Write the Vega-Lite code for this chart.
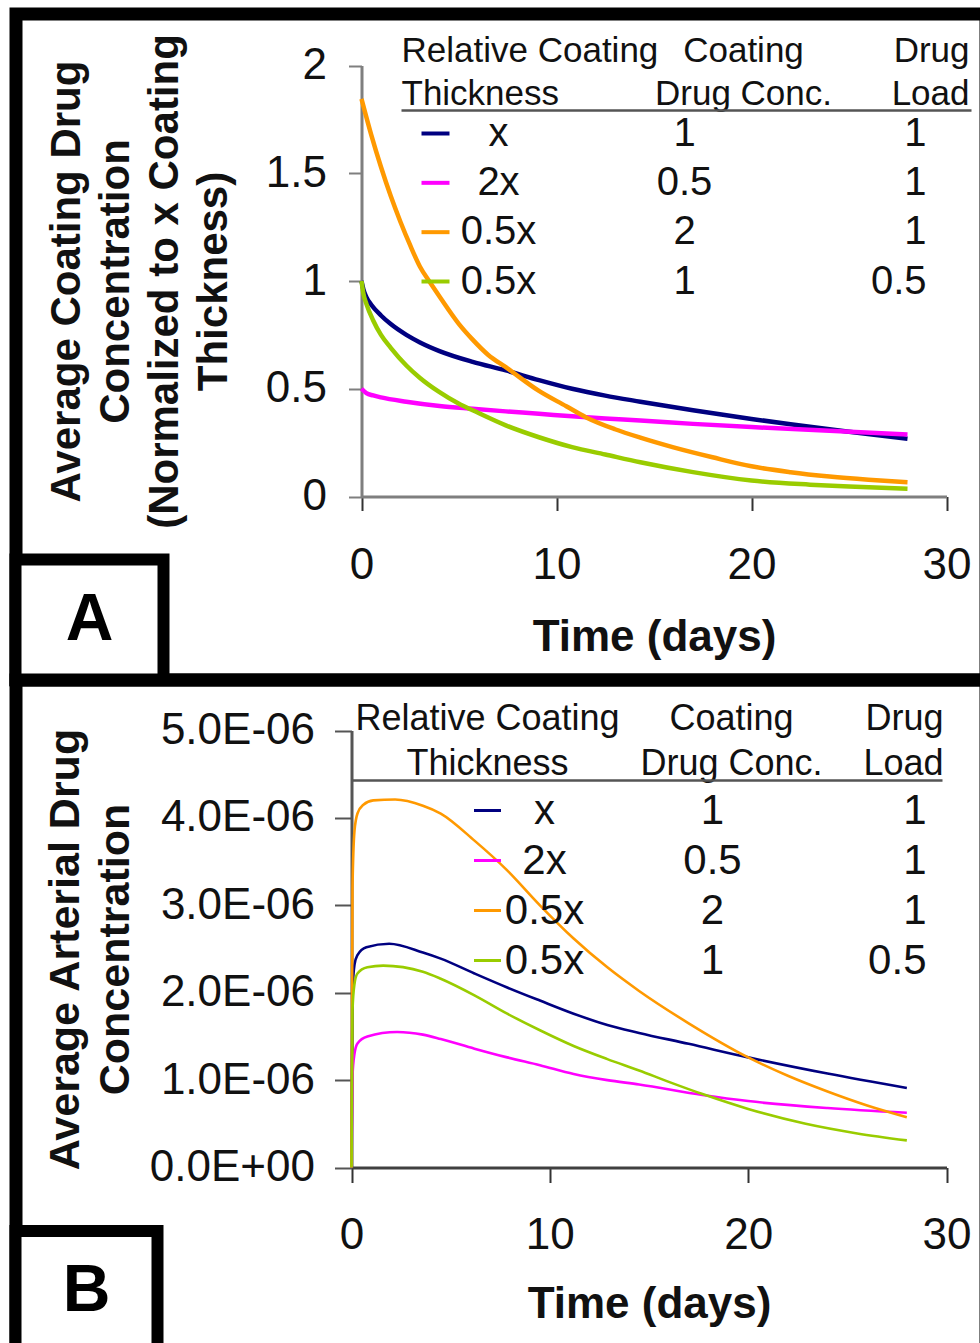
{
  "$schema": "https://vega.github.io/schema/vega-lite/v6.json",
  "background": "white",
  "padding": {"left": 3, "top": 7, "right": 0, "bottom": 0},
  "bounds": "flush",
  "spacing": 0,
  "config": {
    "font": "Liberation Sans",
    "view": {"stroke": "black", "strokeWidth": 13},
    "axis": {
      "grid": false,
      "labelFont": "Liberation Sans",
      "labelFontSize": 44,
      "labelColor": "#111111",
      "labelOverlap": false,
      "titleFont": "Liberation Sans",
      "titleFontWeight": "bold",
      "titleColor": "#111111",
      "domainWidth": 3,
      "tickWidth": 2
    },
    "text": {"font": "Liberation Sans", "color": "#111111"}
  },
  "datasets": {
    "curvesA": [
      {"s": "x, 1, 1", "t": 0, "v": 1.0}, {"s": "x, 1, 1", "t": 0.1, "v": 0.96}, {"s": "x, 1, 1", "t": 0.25, "v": 0.925}, {"s": "x, 1, 1", "t": 0.5, "v": 0.89}, {"s": "x, 1, 1", "t": 1, "v": 0.84}, {"s": "x, 1, 1", "t": 1.5, "v": 0.8}, {"s": "x, 1, 1", "t": 2.3, "v": 0.75}, {"s": "x, 1, 1", "t": 3, "v": 0.715}, {"s": "x, 1, 1", "t": 4, "v": 0.675}, {"s": "x, 1, 1", "t": 5.7, "v": 0.625}, {"s": "x, 1, 1", "t": 7.4, "v": 0.585}, {"s": "x, 1, 1", "t": 9.1, "v": 0.54}, {"s": "x, 1, 1", "t": 10.8, "v": 0.5}, {"s": "x, 1, 1", "t": 12.5, "v": 0.468}, {"s": "x, 1, 1", "t": 14.3, "v": 0.44}, {"s": "x, 1, 1", "t": 17, "v": 0.4}, {"s": "x, 1, 1", "t": 20, "v": 0.36}, {"s": "x, 1, 1", "t": 22, "v": 0.335}, {"s": "x, 1, 1", "t": 25, "v": 0.3}, {"s": "x, 1, 1", "t": 28, "v": 0.268},
      {"s": "2x, 0.5, 1", "t": 0, "v": 0.5}, {"s": "2x, 0.5, 1", "t": 0.25, "v": 0.48}, {"s": "2x, 0.5, 1", "t": 0.6, "v": 0.469}, {"s": "2x, 0.5, 1", "t": 1, "v": 0.46}, {"s": "2x, 0.5, 1", "t": 2.3, "v": 0.44}, {"s": "2x, 0.5, 1", "t": 4, "v": 0.42}, {"s": "2x, 0.5, 1", "t": 5.7, "v": 0.407}, {"s": "2x, 0.5, 1", "t": 7.4, "v": 0.395}, {"s": "2x, 0.5, 1", "t": 9.1, "v": 0.384}, {"s": "2x, 0.5, 1", "t": 10.8, "v": 0.372}, {"s": "2x, 0.5, 1", "t": 12.5, "v": 0.362}, {"s": "2x, 0.5, 1", "t": 14.3, "v": 0.353}, {"s": "2x, 0.5, 1", "t": 17, "v": 0.337}, {"s": "2x, 0.5, 1", "t": 20, "v": 0.322}, {"s": "2x, 0.5, 1", "t": 24, "v": 0.305}, {"s": "2x, 0.5, 1", "t": 28, "v": 0.288},
      {"s": "0.5x, 2, 1", "t": 0, "v": 1.845}, {"s": "0.5x, 2, 1", "t": 0.5, "v": 1.678}, {"s": "0.5x, 2, 1", "t": 1, "v": 1.529}, {"s": "0.5x, 2, 1", "t": 1.5, "v": 1.394}, {"s": "0.5x, 2, 1", "t": 2, "v": 1.274}, {"s": "0.5x, 2, 1", "t": 2.5, "v": 1.165}, {"s": "0.5x, 2, 1", "t": 3, "v": 1.066}, {"s": "0.5x, 2, 1", "t": 3.5, "v": 0.995}, {"s": "0.5x, 2, 1", "t": 4, "v": 0.928}, {"s": "0.5x, 2, 1", "t": 5, "v": 0.8}, {"s": "0.5x, 2, 1", "t": 5.7, "v": 0.728}, {"s": "0.5x, 2, 1", "t": 6.5, "v": 0.657}, {"s": "0.5x, 2, 1", "t": 7.4, "v": 0.6}, {"s": "0.5x, 2, 1", "t": 9.1, "v": 0.49}, {"s": "0.5x, 2, 1", "t": 10.5, "v": 0.419}, {"s": "0.5x, 2, 1", "t": 11.5, "v": 0.368}, {"s": "0.5x, 2, 1", "t": 13, "v": 0.312}, {"s": "0.5x, 2, 1", "t": 14.3, "v": 0.273}, {"s": "0.5x, 2, 1", "t": 16, "v": 0.228}, {"s": "0.5x, 2, 1", "t": 18, "v": 0.182}, {"s": "0.5x, 2, 1", "t": 20, "v": 0.14}, {"s": "0.5x, 2, 1", "t": 22, "v": 0.113}, {"s": "0.5x, 2, 1", "t": 24, "v": 0.093}, {"s": "0.5x, 2, 1", "t": 26, "v": 0.078}, {"s": "0.5x, 2, 1", "t": 28, "v": 0.066},
      {"s": "0.5x, 1, 0.5", "t": 0, "v": 1.0}, {"s": "0.5x, 1, 0.5", "t": 0.1, "v": 0.94}, {"s": "0.5x, 1, 0.5", "t": 0.25, "v": 0.894}, {"s": "0.5x, 1, 0.5", "t": 0.6, "v": 0.817}, {"s": "0.5x, 1, 0.5", "t": 1, "v": 0.75}, {"s": "0.5x, 1, 0.5", "t": 1.5, "v": 0.69}, {"s": "0.5x, 1, 0.5", "t": 2.3, "v": 0.608}, {"s": "0.5x, 1, 0.5", "t": 3, "v": 0.55}, {"s": "0.5x, 1, 0.5", "t": 4, "v": 0.484}, {"s": "0.5x, 1, 0.5", "t": 5, "v": 0.43}, {"s": "0.5x, 1, 0.5", "t": 5.7, "v": 0.4}, {"s": "0.5x, 1, 0.5", "t": 7.4, "v": 0.33}, {"s": "0.5x, 1, 0.5", "t": 9.1, "v": 0.275}, {"s": "0.5x, 1, 0.5", "t": 10.8, "v": 0.229}, {"s": "0.5x, 1, 0.5", "t": 12.5, "v": 0.195}, {"s": "0.5x, 1, 0.5", "t": 14.3, "v": 0.159}, {"s": "0.5x, 1, 0.5", "t": 17, "v": 0.113}, {"s": "0.5x, 1, 0.5", "t": 20, "v": 0.074}, {"s": "0.5x, 1, 0.5", "t": 23, "v": 0.055}, {"s": "0.5x, 1, 0.5", "t": 25, "v": 0.046}, {"s": "0.5x, 1, 0.5", "t": 28, "v": 0.036}
    ],
    "curvesB": [
      {"s": "x, 1, 1", "t": 0, "v": 0}, {"s": "x, 1, 1", "t": 0.05, "v": 2.0e-6}, {"s": "x, 1, 1", "t": 0.15, "v": 2.32e-6}, {"s": "x, 1, 1", "t": 0.3, "v": 2.43e-6}, {"s": "x, 1, 1", "t": 0.75, "v": 2.52e-6}, {"s": "x, 1, 1", "t": 1.9, "v": 2.56e-6}, {"s": "x, 1, 1", "t": 3.6, "v": 2.46e-6}, {"s": "x, 1, 1", "t": 4.5, "v": 2.39e-6}, {"s": "x, 1, 1", "t": 6.2, "v": 2.22e-6}, {"s": "x, 1, 1", "t": 7.85, "v": 2.06e-6}, {"s": "x, 1, 1", "t": 9.5, "v": 1.91e-6}, {"s": "x, 1, 1", "t": 11.2, "v": 1.76e-6}, {"s": "x, 1, 1", "t": 12.9, "v": 1.63e-6}, {"s": "x, 1, 1", "t": 14.5, "v": 1.54e-6}, {"s": "x, 1, 1", "t": 17, "v": 1.415e-6}, {"s": "x, 1, 1", "t": 20, "v": 1.26e-6}, {"s": "x, 1, 1", "t": 24, "v": 1.075e-6}, {"s": "x, 1, 1", "t": 28, "v": 0.91e-6},
      {"s": "2x, 0.5, 1", "t": 0, "v": 0}, {"s": "2x, 0.5, 1", "t": 0.05, "v": 1.05e-6}, {"s": "2x, 0.5, 1", "t": 0.15, "v": 1.3e-6}, {"s": "2x, 0.5, 1", "t": 0.3, "v": 1.42e-6}, {"s": "2x, 0.5, 1", "t": 0.8, "v": 1.5e-6}, {"s": "2x, 0.5, 1", "t": 2.3, "v": 1.55e-6}, {"s": "2x, 0.5, 1", "t": 3.6, "v": 1.52e-6}, {"s": "2x, 0.5, 1", "t": 4.5, "v": 1.47e-6}, {"s": "2x, 0.5, 1", "t": 6.2, "v": 1.36e-6}, {"s": "2x, 0.5, 1", "t": 7.85, "v": 1.26e-6}, {"s": "2x, 0.5, 1", "t": 9.5, "v": 1.17e-6}, {"s": "2x, 0.5, 1", "t": 11.2, "v": 1.07e-6}, {"s": "2x, 0.5, 1", "t": 12.9, "v": 1.0e-6}, {"s": "2x, 0.5, 1", "t": 14.5, "v": 0.95e-6}, {"s": "2x, 0.5, 1", "t": 17.7, "v": 0.83e-6}, {"s": "2x, 0.5, 1", "t": 20, "v": 0.76e-6}, {"s": "2x, 0.5, 1", "t": 24, "v": 0.68e-6}, {"s": "2x, 0.5, 1", "t": 28, "v": 0.626e-6},
      {"s": "0.5x, 2, 1", "t": 0, "v": 0}, {"s": "0.5x, 2, 1", "t": 0.05, "v": 3.2e-6}, {"s": "0.5x, 2, 1", "t": 0.15, "v": 3.85e-6}, {"s": "0.5x, 2, 1", "t": 0.3, "v": 4.05e-6}, {"s": "0.5x, 2, 1", "t": 0.6, "v": 4.15e-6}, {"s": "0.5x, 2, 1", "t": 1.1, "v": 4.2e-6}, {"s": "0.5x, 2, 1", "t": 2.2, "v": 4.21e-6}, {"s": "0.5x, 2, 1", "t": 3.6, "v": 4.14e-6}, {"s": "0.5x, 2, 1", "t": 4.5, "v": 4.05e-6}, {"s": "0.5x, 2, 1", "t": 6.2, "v": 3.74e-6}, {"s": "0.5x, 2, 1", "t": 7.85, "v": 3.4e-6}, {"s": "0.5x, 2, 1", "t": 9.5, "v": 3.0e-6}, {"s": "0.5x, 2, 1", "t": 11.2, "v": 2.62e-6}, {"s": "0.5x, 2, 1", "t": 12.9, "v": 2.29e-6}, {"s": "0.5x, 2, 1", "t": 14.5, "v": 2.02e-6}, {"s": "0.5x, 2, 1", "t": 17, "v": 1.65e-6}, {"s": "0.5x, 2, 1", "t": 20, "v": 1.26e-6}, {"s": "0.5x, 2, 1", "t": 22, "v": 1.05e-6}, {"s": "0.5x, 2, 1", "t": 24, "v": 0.87e-6}, {"s": "0.5x, 2, 1", "t": 26, "v": 0.71e-6}, {"s": "0.5x, 2, 1", "t": 28, "v": 0.576e-6},
      {"s": "0.5x, 1, 0.5", "t": 0, "v": 0}, {"s": "0.5x, 1, 0.5", "t": 0.05, "v": 1.8e-6}, {"s": "0.5x, 1, 0.5", "t": 0.15, "v": 2.1e-6}, {"s": "0.5x, 1, 0.5", "t": 0.3, "v": 2.22e-6}, {"s": "0.5x, 1, 0.5", "t": 0.8, "v": 2.29e-6}, {"s": "0.5x, 1, 0.5", "t": 1.6, "v": 2.31e-6}, {"s": "0.5x, 1, 0.5", "t": 3.6, "v": 2.24e-6}, {"s": "0.5x, 1, 0.5", "t": 4.5, "v": 2.16e-6}, {"s": "0.5x, 1, 0.5", "t": 6.2, "v": 1.97e-6}, {"s": "0.5x, 1, 0.5", "t": 7.85, "v": 1.76e-6}, {"s": "0.5x, 1, 0.5", "t": 9.5, "v": 1.57e-6}, {"s": "0.5x, 1, 0.5", "t": 11.2, "v": 1.39e-6}, {"s": "0.5x, 1, 0.5", "t": 12.9, "v": 1.24e-6}, {"s": "0.5x, 1, 0.5", "t": 14.5, "v": 1.11e-6}, {"s": "0.5x, 1, 0.5", "t": 16, "v": 0.98e-6}, {"s": "0.5x, 1, 0.5", "t": 17.7, "v": 0.84e-6}, {"s": "0.5x, 1, 0.5", "t": 20, "v": 0.67e-6}, {"s": "0.5x, 1, 0.5", "t": 22.9, "v": 0.5e-6}, {"s": "0.5x, 1, 0.5", "t": 25.5, "v": 0.39e-6}, {"s": "0.5x, 1, 0.5", "t": 28, "v": 0.31e-6}
    ],
    "table": [
      {"s": "x, 1, 1", "col": "Relative Coating Thickness", "text": "x"},
      {"s": "x, 1, 1", "col": "Coating Drug Conc.", "text": "1"},
      {"s": "x, 1, 1", "col": "Drug Load", "text": "1"},
      {"s": "2x, 0.5, 1", "col": "Relative Coating Thickness", "text": "2x"},
      {"s": "2x, 0.5, 1", "col": "Coating Drug Conc.", "text": "0.5"},
      {"s": "2x, 0.5, 1", "col": "Drug Load", "text": "1"},
      {"s": "0.5x, 2, 1", "col": "Relative Coating Thickness", "text": "0.5x"},
      {"s": "0.5x, 2, 1", "col": "Coating Drug Conc.", "text": "2"},
      {"s": "0.5x, 2, 1", "col": "Drug Load", "text": "1"},
      {"s": "0.5x, 1, 0.5", "col": "Relative Coating Thickness", "text": "0.5x"},
      {"s": "0.5x, 1, 0.5", "col": "Coating Drug Conc.", "text": "1"},
      {"s": "0.5x, 1, 0.5", "col": "Drug Load", "text": "0.5"}
    ],
    "header": [
      {"col": "Relative Coating Thickness", "line": 1, "text": "Relative Coating"},
      {"col": "Relative Coating Thickness", "line": 2, "text": "Thickness"},
      {"col": "Coating Drug Conc.", "line": 1, "text": "Coating"},
      {"col": "Coating Drug Conc.", "line": 2, "text": "Drug Conc."},
      {"col": "Drug Load", "line": 1, "text": "Drug"},
      {"col": "Drug Load", "line": 2, "text": "Load"}
    ],
    "underline": [
      {"from": "Relative Coating Thickness", "to": "Drug Load", "line": "header rule"}
    ],
    "panelA": [{"panel": "A"}],
    "panelB": [{"panel": "B"}]
  },
  "vconcat": [
    {
      "width": 970,
      "height": 666,
      "resolve": {"scale": {"x": "independent", "y": "independent"}},
      "layer": [
        {
          "data": {"name": "curvesA"},
          "mark": {"type": "line", "strokeWidth": 4.5, "interpolate": "monotone"},
          "encoding": {
            "x": {"field": "t", "type": "quantitative",
              "scale": {"domain": [0, 30], "range": [345.5, 930.5], "nice": false, "zero": false},
              "axis": {"values": [0, 10, 20, 30], "format": "d", "offset": -183.5, "title": "Time (days)",
                "titleFontSize": 44, "tickSize": 14, "labelPadding": 33, "titlePadding": 28, "labelFlush": false,
                "domainColor": "#7f7f7f", "tickColor": "#333333"}},
            "y": {"field": "v", "type": "quantitative",
              "scale": {"domain": [0, 2], "range": [482.5, 51.5], "nice": false},
              "axis": {"values": [0, 0.5, 1, 1.5, 2], "format": "~g", "offset": -345.5,
                "title": ["Average Coating Drug", "Concentration", "(Normalized to x Coating", "Thickness)"],
                "titleFontSize": 42, "titleLineHeight": 49, "tickSize": 13, "labelPadding": 22, "titlePadding": 30,
                "domainColor": "#7f7f7f", "tickColor": "#7f7f7f"}},
            "color": {"field": "s", "type": "nominal",
              "scale": {"domain": ["x, 1, 1", "2x, 0.5, 1", "0.5x, 2, 1", "0.5x, 1, 0.5"], "range": ["#000080", "#ff00ff", "#ff9900", "#99cc00"]},
              "legend": null}
          }
        },
        {
          "data": {"name": "table"},
          "transform": [{"filter": "datum.col == 'Relative Coating Thickness'"}],
          "mark": {"type": "point", "shape": "stroke", "size": 784, "strokeWidth": 4, "opacity": 1, "filled": false},
          "encoding": {
            "x": {"field": "col", "type": "nominal", "scale": {"type": "point", "domain": ["Relative Coating Thickness"], "range": [419.5, 419.5]}, "axis": null},
            "y": {"field": "s", "type": "nominal", "scale": {"type": "point", "domain": ["x, 1, 1", "2x, 0.5, 1", "0.5x, 2, 1", "0.5x, 1, 0.5"], "range": [119.5, 267.5], "padding": 0}, "axis": null},
            "color": {"field": "s", "type": "nominal", "legend": null}
          }
        },
        {
          "data": {"name": "table"},
          "transform": [{"filter": "datum.col != 'Drug Load'"}],
          "mark": {"type": "text", "align": "center", "baseline": "middle", "fontSize": 40},
          "encoding": {
            "x": {"field": "col", "type": "nominal", "scale": {"type": "point", "domain": ["Relative Coating Thickness", "Coating Drug Conc."], "range": [482.5, 668.5], "padding": 0}, "axis": null},
            "y": {"field": "s", "type": "nominal", "scale": {"type": "point", "domain": ["x, 1, 1", "2x, 0.5, 1", "0.5x, 2, 1", "0.5x, 1, 0.5"], "range": [119.5, 267.5], "padding": 0}, "axis": null},
            "text": {"field": "text"}
          }
        },
        {
          "data": {"name": "table"},
          "transform": [{"filter": "datum.col == 'Drug Load'"}],
          "mark": {"type": "text", "align": "right", "baseline": "middle", "fontSize": 40},
          "encoding": {
            "x": {"field": "col", "type": "nominal", "scale": {"type": "point", "domain": ["Drug Load"], "range": [910.5, 910.5]}, "axis": null},
            "y": {"field": "s", "type": "nominal", "scale": {"type": "point", "domain": ["x, 1, 1", "2x, 0.5, 1", "0.5x, 2, 1", "0.5x, 1, 0.5"], "range": [119.5, 267.5], "padding": 0}, "axis": null},
            "text": {"field": "text"}
          }
        },
        {
          "data": {"name": "header"},
          "transform": [{"filter": "datum.col == 'Relative Coating Thickness'"}],
          "mark": {"type": "text", "align": "left", "baseline": "middle", "fontSize": 35},
          "encoding": {
            "x": {"field": "col", "type": "nominal", "scale": {"type": "point", "domain": ["Relative Coating Thickness"], "range": [385.5, 385.5]}, "axis": null},
            "y": {"field": "line", "type": "ordinal", "scale": {"type": "point", "domain": [1, 2], "range": [36.5, 79.5], "padding": 0}, "axis": null},
            "text": {"field": "text"}
          }
        },
        {
          "data": {"name": "header"},
          "transform": [{"filter": "datum.col == 'Coating Drug Conc.'"}],
          "mark": {"type": "text", "align": "center", "baseline": "middle", "fontSize": 35},
          "encoding": {
            "x": {"field": "col", "type": "nominal", "scale": {"type": "point", "domain": ["Coating Drug Conc."], "range": [727.5, 727.5]}, "axis": null},
            "y": {"field": "line", "type": "ordinal", "scale": {"type": "point", "domain": [1, 2], "range": [36.5, 79.5], "padding": 0}, "axis": null},
            "text": {"field": "text"}
          }
        },
        {
          "data": {"name": "header"},
          "transform": [{"filter": "datum.col == 'Drug Load'"}],
          "mark": {"type": "text", "align": "right", "baseline": "middle", "fontSize": 35},
          "encoding": {
            "x": {"field": "col", "type": "nominal", "scale": {"type": "point", "domain": ["Drug Load"], "range": [953.5, 953.5]}, "axis": null},
            "y": {"field": "line", "type": "ordinal", "scale": {"type": "point", "domain": [1, 2], "range": [36.5, 79.5], "padding": 0}, "axis": null},
            "text": {"field": "text"}
          }
        },
        {
          "data": {"name": "underline"},
          "mark": {"type": "rule", "strokeWidth": 2.5, "color": "#555555"},
          "encoding": {
            "x": {"field": "from", "type": "nominal", "scale": {"type": "point", "domain": ["Relative Coating Thickness", "Drug Load"], "range": [385.5, 955.5], "padding": 0}, "axis": null},
            "x2": {"field": "to"},
            "y": {"field": "line", "type": "nominal", "scale": {"type": "point", "domain": ["header rule"], "range": [96.5, 96.5]}, "axis": null}
          }
        },
        {
          "data": {"name": "panelA"},
          "mark": {"type": "rect", "fill": "white", "stroke": "black", "strokeWidth": 12},
          "encoding": {
            "x": {"field": "panel", "type": "nominal", "scale": {"type": "band", "domain": ["A"], "range": [-0.5, 147.5], "paddingInner": 0, "paddingOuter": 0}, "axis": null},
            "y": {"field": "panel", "type": "nominal", "scale": {"type": "band", "domain": ["A"], "range": [545.5, 666], "paddingInner": 0, "paddingOuter": 0}, "axis": null}
          }
        },
        {
          "data": {"name": "panelA"},
          "mark": {"type": "text", "align": "center", "baseline": "middle", "fontSize": 66, "fontWeight": "bold", "color": "black"},
          "encoding": {
            "x": {"field": "panel", "type": "nominal", "bandPosition": 0.5, "scale": {"type": "band", "domain": ["A"], "range": [-0.5, 147.5], "paddingInner": 0, "paddingOuter": 0}, "axis": null},
            "y": {"field": "panel", "type": "nominal", "bandPosition": 0.5, "scale": {"type": "band", "domain": ["A"], "range": [545.5, 666], "paddingInner": 0, "paddingOuter": 0}, "axis": null},
            "text": {"field": "panel"}
          }
        }
      ]
    },
    {
      "width": 970,
      "height": 672.5,
      "resolve": {"scale": {"x": "independent", "y": "independent"}},
      "layer": [
        {
          "data": {"name": "curvesB"},
          "mark": {"type": "line", "strokeWidth": 2.6, "interpolate": "monotone"},
          "encoding": {
            "x": {"field": "t", "type": "quantitative",
              "scale": {"domain": [0, 30], "range": [335.5, 930.5], "nice": false, "zero": false},
              "axis": {"values": [0, 10, 20, 30], "format": "d", "offset": -185, "title": "Time (days)",
                "titleFontSize": 44, "tickSize": 15, "labelPadding": 31, "titlePadding": 25, "labelFlush": false,
                "domainColor": "#404040", "tickColor": "#333333"}},
            "y": {"field": "v", "type": "quantitative",
              "scale": {"domain": [0, 5e-6], "range": [487.5, 50.5], "nice": false},
              "axis": {"values": [0, 1e-6, 2e-6, 3e-6, 4e-6, 5e-6],
                "labelExpr": "datum.value == 0 ? '0.0E+00' : format(datum.value * 1000000, '.1f') + 'E-06'",
                "offset": -335.5,
                "title": ["Average Arterial Drug", "Concentration"],
                "titleFontSize": 43, "titleLineHeight": 50, "tickSize": 17, "labelPadding": 20, "titlePadding": 14,
                "domainColor": "#555555", "tickColor": "#555555"}},
            "color": {"field": "s", "type": "nominal",
              "scale": {"domain": ["x, 1, 1", "2x, 0.5, 1", "0.5x, 2, 1", "0.5x, 1, 0.5"], "range": ["#1a1a99", "#ff22ff", "#ffa030", "#99cc22"]},
              "legend": null}
          }
        },
        {
          "data": {"name": "table"},
          "transform": [{"filter": "datum.col == 'Relative Coating Thickness'"}],
          "mark": {"type": "point", "shape": "stroke", "size": 729, "strokeWidth": 3, "opacity": 1, "filled": false},
          "encoding": {
            "x": {"field": "col", "type": "nominal", "scale": {"type": "point", "domain": ["Relative Coating Thickness"], "range": [471.5, 471.5]}, "axis": null},
            "y": {"field": "s", "type": "nominal", "scale": {"type": "point", "domain": ["x, 1, 1", "2x, 0.5, 1", "0.5x, 2, 1", "0.5x, 1, 0.5"], "range": [130.5, 280.5], "padding": 0}, "axis": null},
            "color": {"field": "s", "type": "nominal", "legend": null}
          }
        },
        {
          "data": {"name": "table"},
          "transform": [{"filter": "datum.col != 'Drug Load'"}],
          "mark": {"type": "text", "align": "center", "baseline": "middle", "fontSize": 42},
          "encoding": {
            "x": {"field": "col", "type": "nominal", "scale": {"type": "point", "domain": ["Relative Coating Thickness", "Coating Drug Conc."], "range": [528.5, 696.5], "padding": 0}, "axis": null},
            "y": {"field": "s", "type": "nominal", "scale": {"type": "point", "domain": ["x, 1, 1", "2x, 0.5, 1", "0.5x, 2, 1", "0.5x, 1, 0.5"], "range": [130.5, 280.5], "padding": 0}, "axis": null},
            "text": {"field": "text"}
          }
        },
        {
          "data": {"name": "table"},
          "transform": [{"filter": "datum.col == 'Drug Load'"}],
          "mark": {"type": "text", "align": "right", "baseline": "middle", "fontSize": 42},
          "encoding": {
            "x": {"field": "col", "type": "nominal", "scale": {"type": "point", "domain": ["Drug Load"], "range": [910.5, 910.5]}, "axis": null},
            "y": {"field": "s", "type": "nominal", "scale": {"type": "point", "domain": ["x, 1, 1", "2x, 0.5, 1", "0.5x, 2, 1", "0.5x, 1, 0.5"], "range": [130.5, 280.5], "padding": 0}, "axis": null},
            "text": {"field": "text"}
          }
        },
        {
          "data": {"name": "header"},
          "transform": [{"filter": "datum.col == 'Relative Coating Thickness'"}],
          "mark": {"type": "text", "align": "center", "baseline": "middle", "fontSize": 36},
          "encoding": {
            "x": {"field": "col", "type": "nominal", "scale": {"type": "point", "domain": ["Relative Coating Thickness"], "range": [471.5, 471.5]}, "axis": null},
            "y": {"field": "line", "type": "ordinal", "scale": {"type": "point", "domain": [1, 2], "range": [38.5, 83.5], "padding": 0}, "axis": null},
            "text": {"field": "text"}
          }
        },
        {
          "data": {"name": "header"},
          "transform": [{"filter": "datum.col == 'Coating Drug Conc.'"}],
          "mark": {"type": "text", "align": "center", "baseline": "middle", "fontSize": 36},
          "encoding": {
            "x": {"field": "col", "type": "nominal", "scale": {"type": "point", "domain": ["Coating Drug Conc."], "range": [715.5, 715.5]}, "axis": null},
            "y": {"field": "line", "type": "ordinal", "scale": {"type": "point", "domain": [1, 2], "range": [38.5, 83.5], "padding": 0}, "axis": null},
            "text": {"field": "text"}
          }
        },
        {
          "data": {"name": "header"},
          "transform": [{"filter": "datum.col == 'Drug Load'"}],
          "mark": {"type": "text", "align": "right", "baseline": "middle", "fontSize": 36},
          "encoding": {
            "x": {"field": "col", "type": "nominal", "scale": {"type": "point", "domain": ["Drug Load"], "range": [927.5, 927.5]}, "axis": null},
            "y": {"field": "line", "type": "ordinal", "scale": {"type": "point", "domain": [1, 2], "range": [38.5, 83.5], "padding": 0}, "axis": null},
            "text": {"field": "text"}
          }
        },
        {
          "data": {"name": "underline"},
          "mark": {"type": "rule", "strokeWidth": 2.5, "color": "#555555"},
          "encoding": {
            "x": {"field": "from", "type": "nominal", "scale": {"type": "point", "domain": ["Relative Coating Thickness", "Drug Load"], "range": [335.5, 926.5], "padding": 0}, "axis": null},
            "x2": {"field": "to"},
            "y": {"field": "line", "type": "nominal", "scale": {"type": "point", "domain": ["header rule"], "range": [100.5, 100.5]}, "axis": null}
          }
        },
        {
          "data": {"name": "panelB"},
          "mark": {"type": "rect", "fill": "white", "stroke": "black", "strokeWidth": 12},
          "encoding": {
            "x": {"field": "panel", "type": "nominal", "scale": {"type": "band", "domain": ["B"], "range": [-0.5, 141.5], "paddingInner": 0, "paddingOuter": 0}, "axis": null},
            "y": {"field": "panel", "type": "nominal", "scale": {"type": "band", "domain": ["B"], "range": [551, 670], "paddingInner": 0, "paddingOuter": 0}, "axis": null}
          }
        },
        {
          "data": {"name": "panelB"},
          "mark": {"type": "text", "align": "center", "baseline": "middle", "fontSize": 66, "fontWeight": "bold", "color": "black"},
          "encoding": {
            "x": {"field": "panel", "type": "nominal", "bandPosition": 0.5, "scale": {"type": "band", "domain": ["B"], "range": [-0.5, 141.5], "paddingInner": 0, "paddingOuter": 0}, "axis": null},
            "y": {"field": "panel", "type": "nominal", "bandPosition": 0.5, "scale": {"type": "band", "domain": ["B"], "range": [551, 670], "paddingInner": 0, "paddingOuter": 0}, "axis": null},
            "text": {"field": "panel"}
          }
        }
      ]
    }
  ]
}
